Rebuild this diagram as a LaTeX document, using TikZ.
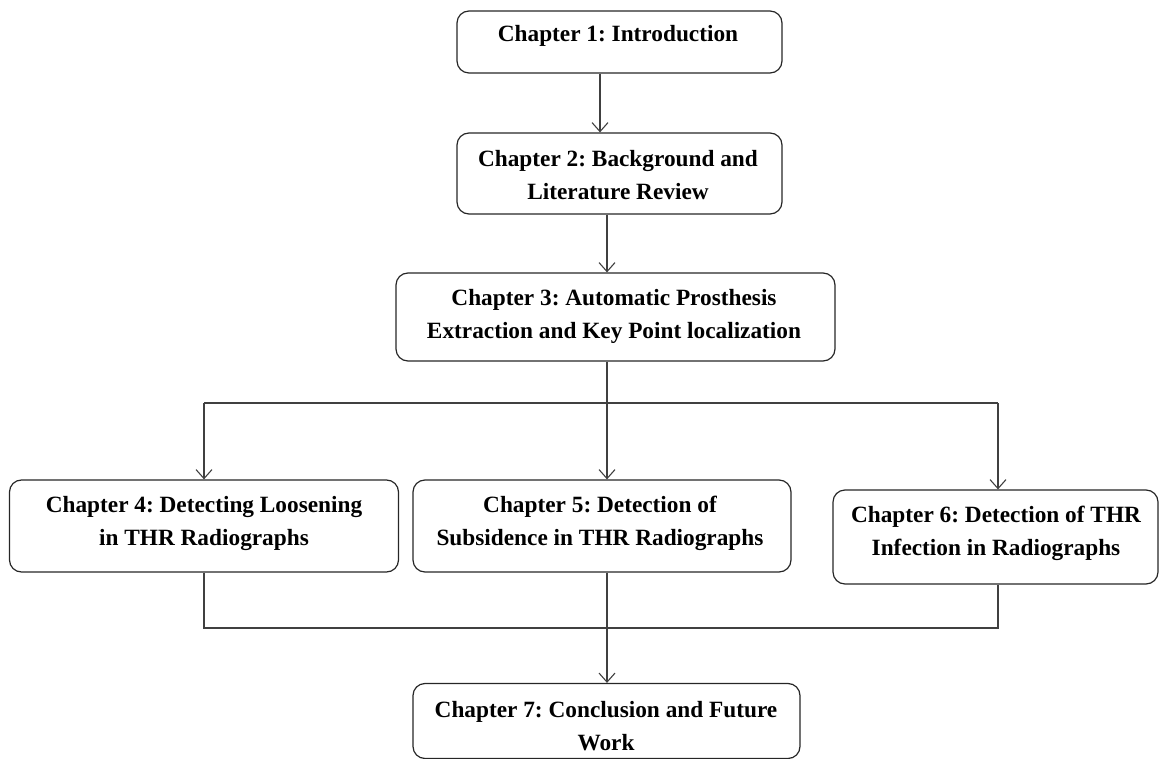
\documentclass[tikz,border=0pt]{standalone}
\usepackage{fontspec}
\setmainfont{Liberation Serif}
\usetikzlibrary{arrows.meta}
\frenchspacing
\begin{document}
\begin{tikzpicture}[x=1pt,y=-1pt,
  box/.style={draw=black!85, line width=1.2pt, rounded corners=12pt, inner sep=0pt},
  txt/.style={font=\bfseries\fontsize{23.3}{33}\selectfont, align=center, text=black, inner sep=0pt},
  conn/.style={draw=black!75, line width=1.1pt},
  arr/.style={conn, -{Straight Barb[length=9pt,width=16pt,line width=1.1pt]}}]
\useasboundingbox (0,0) rectangle (1159,759);
% boxes
\node[box, minimum width=325pt, minimum height=62pt] (b1) at (619.5,42) {};
\node[box, minimum width=325pt, minimum height=81pt] (b2) at (619.5,173.5) {};
\node[box, minimum width=439pt, minimum height=88pt] (b3) at (615.5,317) {};
\node[box, minimum width=389pt, minimum height=92pt] (b4) at (204,526) {};
\node[box, minimum width=378pt, minimum height=92pt] (b5) at (602,526) {};
\node[box, minimum width=325pt, minimum height=94pt] (b6) at (995.5,537) {};
\node[box, minimum width=387pt, minimum height=75pt] (b7) at (606.5,721) {};
% texts
\node[txt] (t1) at (618,36) {Chapter 1: Introduction};
\node[txt] (t2) at (618,175.5) {Chapter 2: Background and\\Literature Review};
\node[txt] (t3) at (614,316) {Chapter 3: Automatic Prosthesis\\Extraction and Key Point localization};
\node[txt] (t4) at (204,523) {Chapter 4: Detecting Loosening\\in THR Radiographs};
\node[txt] (t5) at (600,523) {Chapter 5: Detection of\\Subsidence in THR Radiographs};
\node[txt] (t6) at (996,533.5) {Chapter 6: Detection of THR\\Infection in Radiographs};
\node[txt] (t7) at (606,726) {Chapter 7: Conclusion and Future\\Work};
% junction coordinates
\coordinate (s) at (607,403);
\coordinate (sl) at (204,403);
\coordinate (sr) at (998,403);
\coordinate (m) at (607,628);
\coordinate (ml) at (204,628);
\coordinate (mr) at (998,628);
% connectors
\draw[arr] (b1.south -| 600,0) -- (b2.north -| 600,0);
\draw[arr] (b2.south -| s) -- (b3.north -| s);
\draw[conn] (b3.south -| s) -- (s);
\draw[conn] (sl) -- (sr);
\draw[arr] (sl) -- (b4.north -| sl);
\draw[arr] (s) -- (b5.north -| s);
\draw[arr] (sr) -- (b6.north -| sr);
\draw[conn] (b4.south -| ml) -- (ml) -- (mr) -- (b6.south -| mr);
\draw[arr] (b5.south -| m) -- (b7.north -| m);
\end{tikzpicture}
\end{document}
